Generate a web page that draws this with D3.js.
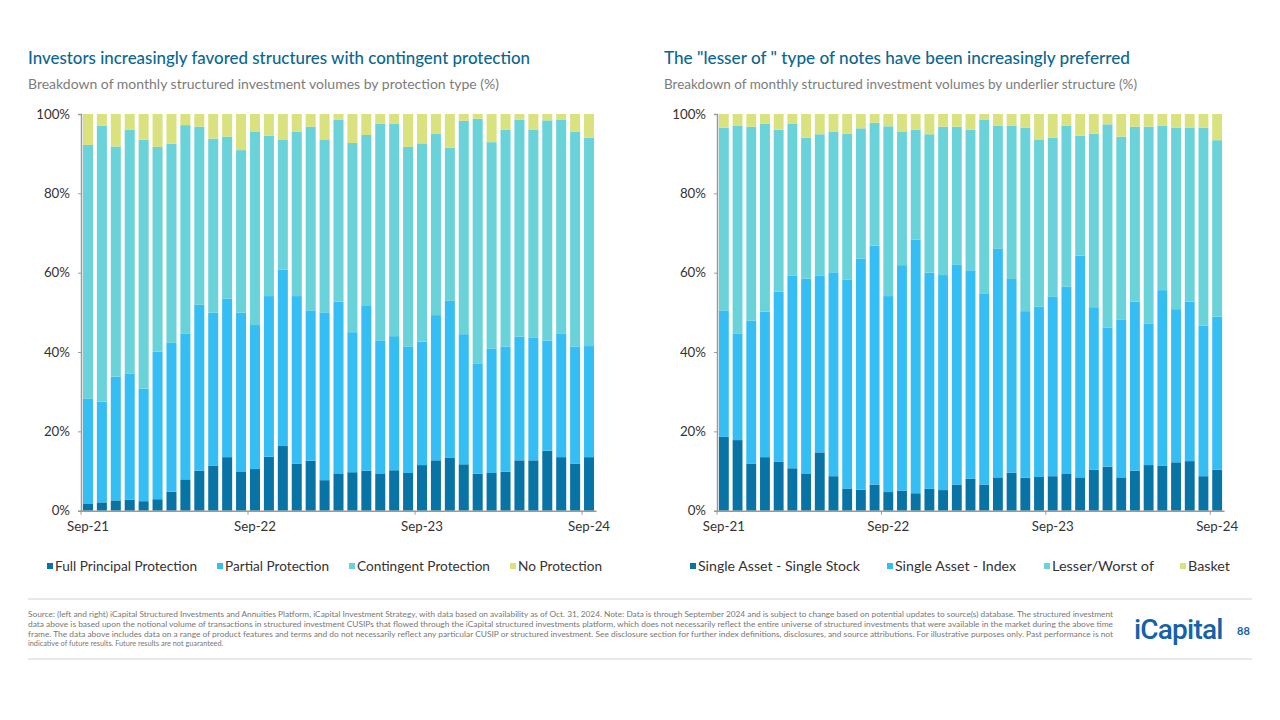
<!DOCTYPE html>
<html><head><meta charset="utf-8">
<script src="https://cdn.jsdelivr.net/npm/d3@7"></script>
<style>
html,body{margin:0;padding:0;background:#fff;}
svg{display:block;font-family:Lato,"Open Sans",sans-serif;}
</style></head>
<body>
<svg id="c" width="1280" height="720"></svg>
<script>
const months = ["Sep-21","Oct-21","Nov-21","Dec-21","Jan-22","Feb-22","Mar-22","Apr-22","May-22","Jun-22","Jul-22","Aug-22",
"Sep-22","Oct-22","Nov-22","Dec-22","Jan-23","Feb-23","Mar-23","Apr-23","May-23","Jun-23","Jul-23","Aug-23",
"Sep-23","Oct-23","Nov-23","Dec-23","Jan-24","Feb-24","Mar-24","Apr-24","May-24","Jun-24","Jul-24","Aug-24","Sep-24"];
const xTickLabels = ["Sep-21","Sep-22","Sep-23","Sep-24"];
const yTicks = [0,20,40,60,80,100];

// Left chart: protection type (%)
const fullPrincipal = [1.7,2.1,2.6,2.8,2.4,2.9,4.8,7.9,10.1,11.4,13.5,9.9,10.5,13.6,16.3,11.8,12.6,7.7,9.4,9.7,10.1,9.4,10.2,9.5,11.5,12.7,13.3,11.7,9.3,9.5,9.8,12.7,12.7,15.1,13.5,11.8,13.5];
const partialProt = [26.6,25.4,31.2,31.7,28.4,37.2,37.5,36.8,41.8,38.5,40.0,40.0,36.3,40.5,44.5,42.3,37.9,42.3,43.3,35.3,41.5,33.4,33.8,31.8,31.1,36.6,39.6,32.8,27.7,31.3,31.6,31.2,31.0,27.8,31.2,29.6,28.0];
const contingentProt = [63.9,69.5,58.0,61.6,62.7,51.6,50.2,52.5,44.9,43.9,40.8,41.0,48.8,40.4,32.8,41.4,46.3,43.6,45.8,47.7,43.1,54.8,53.6,50.4,50.0,45.8,38.6,53.8,61.8,52.1,54.6,54.7,52.4,55.5,53.8,54.1,52.5];
const noProt = [7.8,3.0,8.2,3.9,6.5,8.3,7.5,2.8,3.2,6.2,5.7,9.1,4.4,5.5,6.4,4.5,3.2,6.4,1.5,7.3,5.3,2.4,2.4,8.3,7.4,4.9,8.5,1.7,1.2,7.1,4.0,1.4,3.9,1.6,1.5,4.5,6.0];

// Right chart: underlier structure (%)
const singleStock = [18.6,17.8,11.9,13.5,12.4,10.7,9.4,14.7,8.7,5.6,5.3,6.6,4.7,5.0,4.4,5.5,5.2,6.6,8.1,6.6,8.4,9.6,8.3,8.5,8.7,9.4,8.4,10.3,11.1,8.4,10.1,11.5,11.3,12.2,12.5,8.7,10.3];
const singleIndex = [31.9,26.9,36.0,36.7,42.8,48.5,49.1,44.5,51.4,52.6,58.2,60.2,49.4,56.9,63.9,54.5,54.2,55.5,52.5,48.2,57.6,48.8,42.0,42.9,45.2,47.1,55.9,41.0,35.0,39.7,42.6,35.6,44.3,38.6,40.2,37.9,38.6];
const lesserWorst = [46.0,52.4,48.9,47.3,40.8,38.3,35.5,35.7,35.5,36.8,32.9,31.0,42.8,33.7,27.7,34.9,37.4,34.7,35.4,43.7,31.1,38.6,46.2,42.2,40.1,40.5,30.2,43.7,51.3,46.2,44.1,49.7,41.4,45.7,43.8,49.9,44.5];
const basket = [3.5,2.9,3.2,2.5,4.0,2.5,6.0,5.1,4.4,5.0,3.6,2.2,3.1,4.4,4.0,5.1,3.2,3.2,4.0,1.5,2.9,3.0,3.5,6.4,6.0,3.0,5.5,5.0,2.6,5.7,3.2,3.2,3.0,3.5,3.5,3.5,6.6];

const leftSeries = ["Full Principal Protection","Partial Protection","Contingent Protection","No Protection"];
const rightSeries = ["Single Asset - Single Stock","Single Asset - Index","Lesser/Worst of","Basket"];
const colors = ["#0874a6","#35bef4","#69d3d9","#d9e27f"];

const svg = d3.select("#c");

function drawChart(opts){
  const {x0,x1,yTop,yBot,series,values,title,subtitle,titleX,titleW,subW,legendX,legendW} = opts;
  const rows = months.map((m,i)=>{
    const r = {month:m};
    series.forEach((s,j)=>r[s]=values[j][i]);
    return r;
  });
  const x = d3.scaleBand().domain(months).range([x0,x1]).paddingInner(0.28).paddingOuter(0.14);
  const y = d3.scaleLinear().domain([0,100]).range([yBot,yTop]);
  const stack = d3.stack().keys(series)(rows);
  const color = d3.scaleOrdinal().domain(series).range(colors);
  const g = svg.append("g");

  g.append("text").attr("x",titleX).attr("y",64).attr("fill","#0a6791")
    .attr("font-size",16.5).attr("font-weight",500)
    .attr("textLength",titleW).attr("lengthAdjust","spacingAndGlyphs").text(title);
  g.append("text").attr("x",titleX).attr("y",89).attr("fill","#7c7c7c")
    .attr("font-size",13.2)
    .attr("textLength",subW).attr("lengthAdjust","spacingAndGlyphs").text(subtitle);

  g.selectAll("g.layer").data(stack).join("g").attr("class","layer")
    .attr("fill",d=>color(d.key))
    .selectAll("rect").data(d=>d).join("rect")
    .attr("x",d=>x(d.data.month)).attr("width",x.bandwidth())
    .attr("y",d=>y(d[1])).attr("height",d=>y(d[0])-y(d[1]));

  // y axis
  const ya = d3.axisLeft(y).tickValues(yTicks).tickFormat(d=>d+"%").tickSize(3).tickPadding(8);
  const yg = g.append("g").attr("transform",`translate(${x0},0)`).call(ya);
  yg.select(".domain").attr("stroke","#9a9a9a").attr("stroke-width",1.5);
  yg.selectAll(".tick line").attr("stroke","#9a9a9a");
  yg.selectAll("text").attr("fill","#333").attr("font-size",13.3).attr("font-family","Lato,sans-serif");

  // x axis: labels centered on bands, ticks at band boundaries
  const xa = d3.axisBottom(x).tickValues(xTickLabels).tickSize(0).tickPadding(11);
  const xg = g.append("g").attr("transform",`translate(0,${yBot})`).call(xa);
  xg.select(".domain").attr("stroke","#9a9a9a").attr("stroke-width",1.5);
  xg.selectAll("text").attr("fill","#333").attr("font-size",13.3).attr("font-family","Lato,sans-serif");
  g.selectAll("line.xt").data(xTickLabels).join("line").attr("class","xt")
    .attr("x1",d=>x(d)-x.step()*x.paddingInner()/2)
    .attr("x2",d=>x(d)-x.step()*x.paddingInner()/2)
    .attr("y1",yBot).attr("y2",yBot+4).attr("stroke","#9a9a9a").attr("stroke-width",1);

  // legend
  const lg = g.append("g").attr("transform",`translate(0,566)`);
  series.forEach((s,i)=>{
    const lx = legendX[i];
    lg.append("rect").attr("x",lx).attr("y",-3).attr("width",6).attr("height",6).attr("fill",colors[i]);
    lg.append("text").attr("x",lx+8).attr("y",4.5).attr("fill","#333").attr("font-size",13.4)
      .attr("textLength",legendW[i]).attr("lengthAdjust","spacingAndGlyphs").text(s);
  });
}

drawChart({x0:81,x1:596,yTop:114,yBot:510.7,series:leftSeries,
  values:[fullPrincipal,partialProt,contingentProt,noProt],
  title:"Investors increasingly favored structures with contingent protection",
  subtitle:"Breakdown of monthly structured investment volumes by protection type (%)",
  titleX:28,titleW:502,subW:471,legendX:[47,217,349,510],legendW:[142,104,133,84]});

drawChart({x0:717,x1:1224,yTop:114,yBot:510.7,series:rightSeries,
  values:[singleStock,singleIndex,lesserWorst,basket],
  title:"The \"lesser of \" type of notes have been increasingly preferred",
  subtitle:"Breakdown of monthly structured investment volumes by underlier structure (%)",
  titleX:664,titleW:466,subW:473,legendX:[690,887,1044,1180],legendW:[162,121,102,42]});

// footer
svg.append("line").attr("x1",28).attr("x2",1252).attr("y1",599).attr("y2",599).attr("stroke","#d0d0d0");
svg.append("line").attr("x1",28).attr("x2",1252).attr("y1",659).attr("y2",659).attr("stroke","#d0d0d0");
const footer = [
"Source: (left and right) iCapital Structured Investments and Annuities Platform, iCapital Investment Strategy, with data based on availability as of Oct. 31, 2024. Note: Data is through September 2024 and is subject to change based on potential updates to source(s) database. The structured investment",
"data above is based upon the notional volume of transactions in structured investment CUSIPs that flowed through the iCapital structured investments platform, which does not necessarily reflect the entire universe of structured investments that were available in the market during the above time",
"frame. The data above includes data on a range of product features and terms and do not necessarily reflect any particular CUSIP or structured investment. See disclosure section for further index definitions, disclosures, and source attributions. For illustrative purposes only. Past performance is not",
"indicative of future results. Future results are not guaranteed."];
footer.forEach((t,i)=>{
  const tx = svg.append("text").attr("x",28).attr("y",617+i*9.8).attr("fill","#777")
    .attr("font-size",7.3).text(t);
  if(i<3) tx.attr("textLength",1085).attr("lengthAdjust","spacingAndGlyphs");
});
svg.append("text").attr("x",1134).attr("y",639).attr("fill","#1462a8").attr("font-size",28)
  .attr("font-family","Roboto,sans-serif").attr("font-weight",500).attr("letter-spacing",-0.8).text("iCapital");
svg.append("text").attr("x",1237).attr("y",635).attr("fill","#1462a8").attr("font-size",11)
  .attr("font-weight",700).text("88");
</script>
</body></html>
